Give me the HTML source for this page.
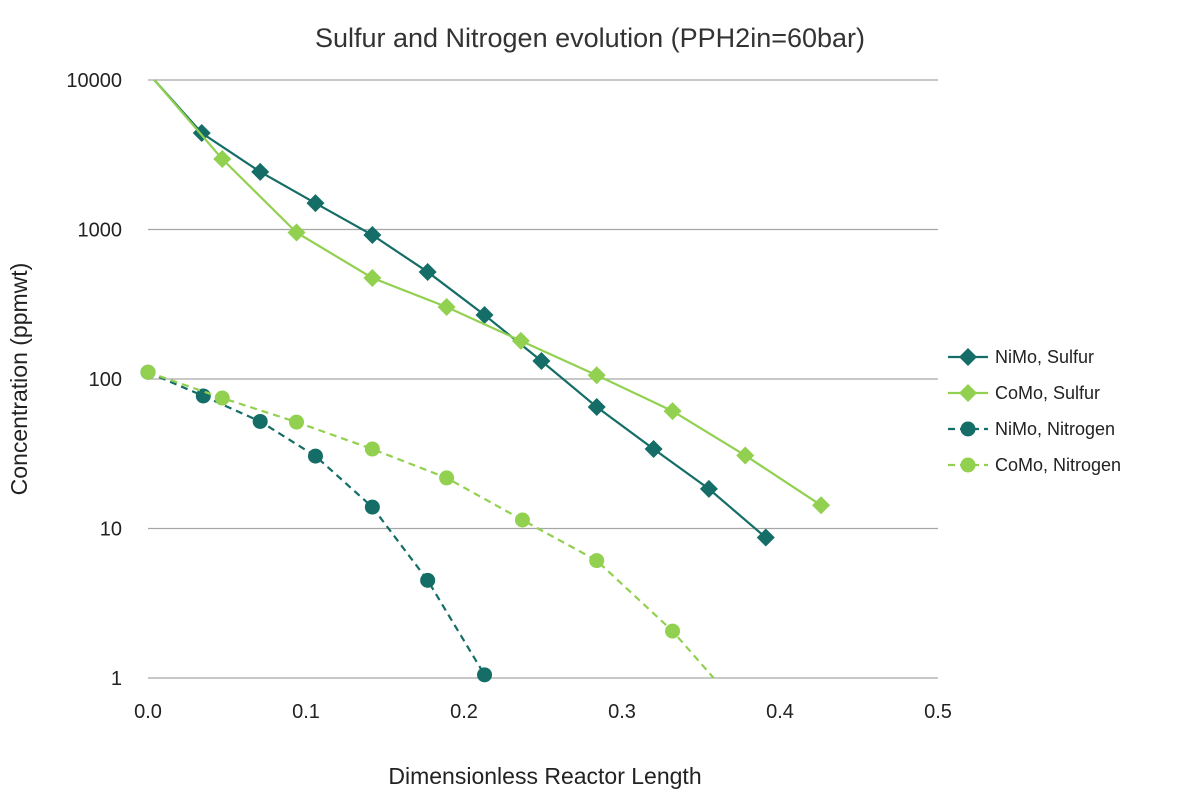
<!DOCTYPE html>
<html><head><meta charset="utf-8"><style>body{margin:0;background:#fff}svg text{font-family:"Liberation Sans",sans-serif}</style></head>
<body>
<svg id="c" width="1200" height="794">
<text x="590" y="47" text-anchor="middle" font-size="27" fill="#333">Sulfur and Nitrogen evolution (PPH2in=60bar)</text>
<text x="545" y="784" text-anchor="middle" font-size="23" fill="#222">Dimensionless Reactor Length</text>
<text transform="translate(27,379) rotate(-90)" text-anchor="middle" font-size="23" fill="#222">Concentration (ppmwt)</text>
<g id="grid"></g><g id="series"></g><g id="legend"></g>
</svg>
<script>
const xTicks=[0.0,0.1,0.2,0.3,0.4,0.5];
const xTickLabels=["0.0","0.1","0.2","0.3","0.4","0.5"];
const yTicks=[1,10,100,1000,10000];
const yTickLabels=["1","10","100","1000","10000"];
const seriesNames=["NiMo, Sulfur","CoMo, Sulfur","NiMo, Nitrogen","CoMo, Nitrogen"];
const nimoSX=[0.004,0.034,0.071,0.106,0.142,0.177,0.213,0.249,0.284,0.320,0.355,0.391];
const nimoSY=[10000,4420,2430,1500,918,520,268,132,65,34,18.4,8.7];
const comoSX=[0.004,0.047,0.094,0.142,0.189,0.236,0.284,0.332,0.378,0.426];
const comoSY=[10000,2960,955,474,303,180,106,61,30.8,14.3];
const nimoNX=[0.0,0.035,0.071,0.106,0.142,0.177,0.213];
const nimoNY=[111,77,52,30.5,13.9,4.5,1.05];
const comoNX=[0.0,0.047,0.094,0.142,0.189,0.237,0.284,0.332,0.358];
const comoNY=[111,74.6,51.5,34,21.8,11.4,6.1,2.06,1.0];
const NS="http://www.w3.org/2000/svg";
const X0=148,X1=938,Y1=80,Y0=678;
const xs=v=>X0+(v-0)/(0.5)*(X1-X0);
const ys=v=>Y0-(Math.log10(v)-0)/4*(Y0-Y1);
function mk(t,a,p){const e=document.createElementNS(NS,t);for(const k in a)e.setAttribute(k,a[k]);p.appendChild(e);return e;}
const g=document.getElementById('grid');
yTicks.forEach((v,i)=>{
 if(i>0){const l=mk('line',{x1:X0,x2:X1,y1:ys(v),y2:ys(v),stroke:'#a6a6a6','stroke-width':1.2},g);
 
 }
 const t=mk('text',{x:122,y:ys(v)+7,'text-anchor':'end','font-size':20,fill:'#222'},g);t.textContent=yTickLabels[i];
 
 
});
xTicks.forEach((v,i)=>{
 const t=mk('text',{x:xs(v),y:718,'text-anchor':'middle','font-size':20,fill:'#222'},g);t.textContent=xTickLabels[i];
 
 
});
const ax=mk('line',{x1:X0,x2:X1,y1:Y0,y2:Y0,stroke:'#a6a6a6','stroke-width':1.2},g);


const DARK="#146d66",LIGHT="#92d050";
const defs=[[nimoSX,nimoSY,DARK,false,'d',1],[comoSX,comoSY,LIGHT,false,'d',1],[nimoNX,nimoNY,DARK,true,'c',0],[comoNX,comoNY,LIGHT,true,'c',0]];
const sg=document.getElementById('series');
function marker(type,x,y,col,p){
 let e;
 if(type==='d'){e=mk('path',{d:`M${x},${y-9}L${x+9},${y}L${x},${y+9}L${x-9},${y}Z`,fill:col},p);}
 else e=mk('circle',{cx:x,cy:y,r:7.5,fill:col},p);
 return e;
}
defs.forEach((d,si)=>{
 const [X,Y,col,dash,mt,skipStart]=d;
 const pts=X.map((v,i)=>xs(v)+','+ys(Y[i])).join(' ');
 const pl=mk('polyline',{points:pts,fill:'none',stroke:col,'stroke-width':2.2,'stroke-dasharray':dash?'7,5':'none'},sg);
 
 
 const end=(si===3)?X.length-1:X.length;
 for(let i=skipStart;i<end;i++){
  const m=marker(mt,xs(X[i]),ys(Y[i]),col,sg);
  
  
 }
});
const lg=document.getElementById('legend');
defs.forEach((d,i)=>{
 const y=357+i*36;
 const e=mk('g',{},lg);
 
 
 mk('line',{x1:948,x2:988,y1:y,y2:y,stroke:d[2],'stroke-width':2.2,'stroke-dasharray':d[3]?'7,5':'none'},e);
 marker(d[4],968,y,d[2],e);
 const t=mk('text',{x:995,y:y+6,'font-size':18,fill:'#222'},e);t.textContent=seriesNames[i];
});
</script>
</body></html>
